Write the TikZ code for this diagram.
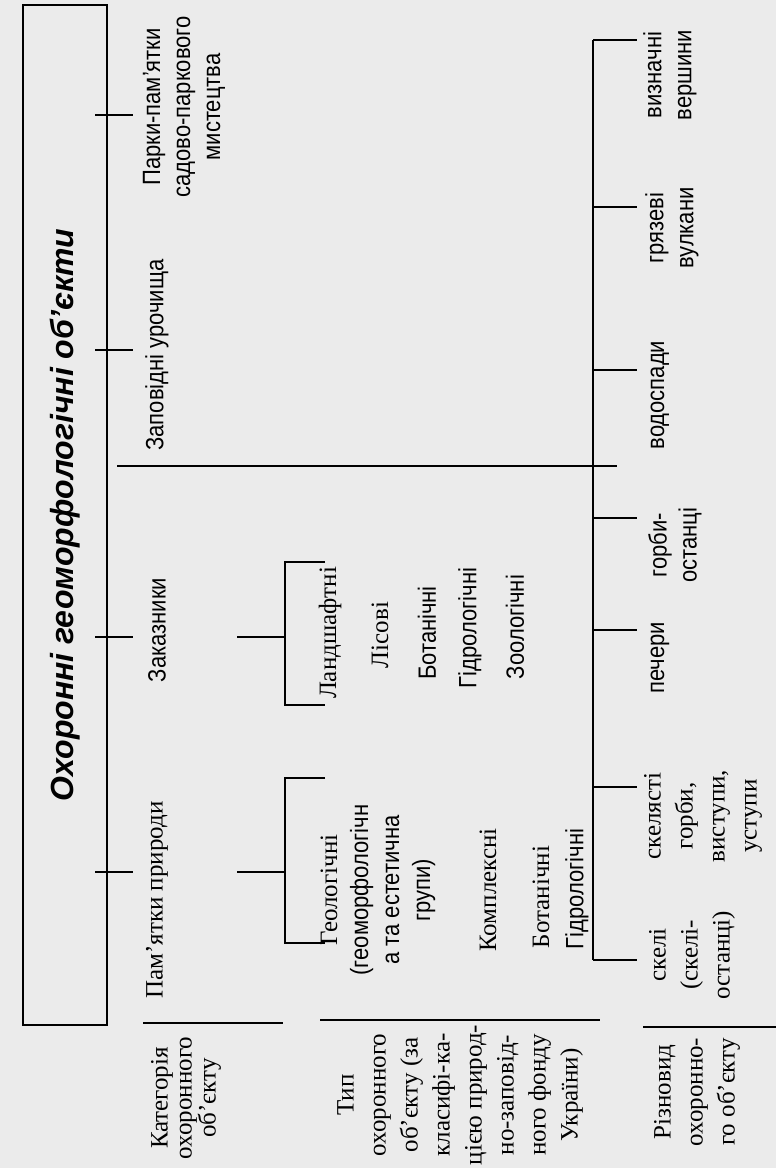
\documentclass[tikz,border=0pt]{standalone}
\usepackage{fontspec}
\setmainfont{Liberation Serif}
\setsansfont{Liberation Sans}[FakeStretch=0.88]
\newfontfamily\titlefont{Liberation Sans}
\usetikzlibrary{positioning,calc}

\begin{document}
\begin{tikzpicture}[x=0.5pt,y=-0.5pt,
  lbl/.style={rotate=90,align=center,inner sep=0pt,font=\fontsize{12.5}{16}\selectfont},
  lbls/.style={lbl,font=\sffamily\fontsize{12.5}{15}\selectfont},
  ln/.style={line width=0.9pt}]
\fill[black!8] (0,0) rectangle (776,1168);
\useasboundingbox (0,0) rectangle (776,1168);

% TITLE

\node[draw,line width=1.2pt,rotate=90,minimum width=510pt,minimum height=42pt,
  font=\titlefont\bfseries\itshape\fontsize{16}{19}\selectfont] (title) at (65,515)
  {Охоронні геоморфологічні об’єкти};

% ROW 1

\node[lbl,font=\fontsize{12.5}{12}\selectfont] (cat) at (186,1098) {Категорія\\охоронного\\об’єкту};
\node[lbl] (c1) at (157,900) {Пам’ятки природи};
\node[lbls] (c2) at (157,630) {Заказники};
\node[lbls] (c3) at (157,355) {Заповідні урочища};
\node[lbls] (c4) at (184,107) {Парки-пам’ятки\\садово-паркового\\мистецтва};

\coordinate (s1a) at (143,1023);
\coordinate (s1b) at (283,1023);
\draw[ln] (s1a) -- (s1b);

\coordinate (k1a) at (95,872);  \coordinate (k1b) at (133,872);
\coordinate (k2a) at (95,637);  \coordinate (k2b) at (133,637);
\coordinate (k3a) at (95,350);  \coordinate (k3b) at (133,350);
\coordinate (k4a) at (95,115);  \coordinate (k4b) at (133,115);
\draw[ln] (k1a) -- (k1b);
\draw[ln] (k2a) -- (k2b);
\draw[ln] (k3a) -- (k3b);
\draw[ln] (k4a) -- (k4b);

% divider
\coordinate (d1) at (117,466);
\coordinate (d2) at (617,466);
\draw[ln] (d1) -- (d2);

% ROW 2

\node[lbl] (typ) at (460,1095) {Тип\\охоронного\\об’єкту (за\\класифі-ка-\\цією природ-\\но-заповід-\\ного фонду\\України)};

\coordinate (s2a) at (320,1020);
\coordinate (s2b) at (600,1020);
\draw[ln] (s2a) -- (s2b);

\coordinate (g0) at (237,872);
\coordinate (g1) at (285,872);
\coordinate (g2) at (285,778);
\coordinate (g3) at (325,778);
\coordinate (g4) at (285,943);
\coordinate (g5) at (325,943);
\draw[ln] (g0) -- (g1);
\draw[ln] (g3) -- (g2) -- (g4) -- (g5);

\node[lbl,font=\fontsize{12.5}{15.5}\selectfont] (p1) at (378,890) {Геологічні\\\sffamily(геоморфологічн\\\sffamily а та естетична\\\sffamily групи)};
\node[lbl] (p2) at (488,890) {Комплексні};
\node[lbl] (p3) at (541,897) {Ботанічні};
\node[lbls] (p4) at (577,889) {Гідрологічні};

\coordinate (h0) at (237,637);
\coordinate (h1) at (285,637);
\coordinate (h2) at (285,562);
\coordinate (h3) at (325,562);
\coordinate (h4) at (285,705);
\coordinate (h5) at (325,705);
\draw[ln] (h0) -- (h1);
\draw[ln] (h3) -- (h2) -- (h4) -- (h5);

\node[lbl] (z1) at (330,633) {Ландшафтні};
\node[lbl] (z2) at (380,635) {Лісові};
\node[lbls] (z3) at (427,633) {Ботанічні};
\node[lbls] (z4) at (470,628) {Гідрологічні};
\node[lbls] (z5) at (515,627) {Зоологічні};

% ROW 3

\node[lbl] (kind) at (697,1092) {Різновид\\охоронно-\\го об’єкту};

\coordinate (s3a) at (643,1027);
\coordinate (s3b) at (776,1027);
\draw[ln] (s3a) -- (s3b);

\coordinate (v0) at (593,40);
\coordinate (v1) at (593,960);
\draw[ln] (v0) -- (v1);

\coordinate (f1) at (637,960);
\coordinate (f2) at (637,787);
\coordinate (f3) at (637,630);
\coordinate (f4) at (637,518);
\coordinate (f5) at (637,370);
\coordinate (f6) at (637,207);
\coordinate (f7) at (637,40);
\draw[ln] (v1) -- (f1);
\draw[ln] (v1 |- f2) -- (f2);
\draw[ln] (v1 |- f3) -- (f3);
\draw[ln] (v1 |- f4) -- (f4);
\draw[ln] (v1 |- f5) -- (f5);
\draw[ln] (v1 |- f6) -- (f6);
\draw[ln] (v0) -- (f7);

\node[lbl] (r1) at (692,955) {скелі\\(скелі-\\останці)};
\node[lbl] (r2) at (703,816) {скелясті\\горби,\\виступи,\\уступи};
\node[lbls] (r3) at (660,658) {печери};
\node[lbls] (r4) at (675,545) {горби-\\останці};
\node[lbls] (r5) at (660,395) {водоспади};
\node[lbls] (r6) at (672,228) {грязеві\\вулкани};
\node[lbls] (r7) at (670,75) {визначні\\вершини};

\end{tikzpicture}
\end{document}
